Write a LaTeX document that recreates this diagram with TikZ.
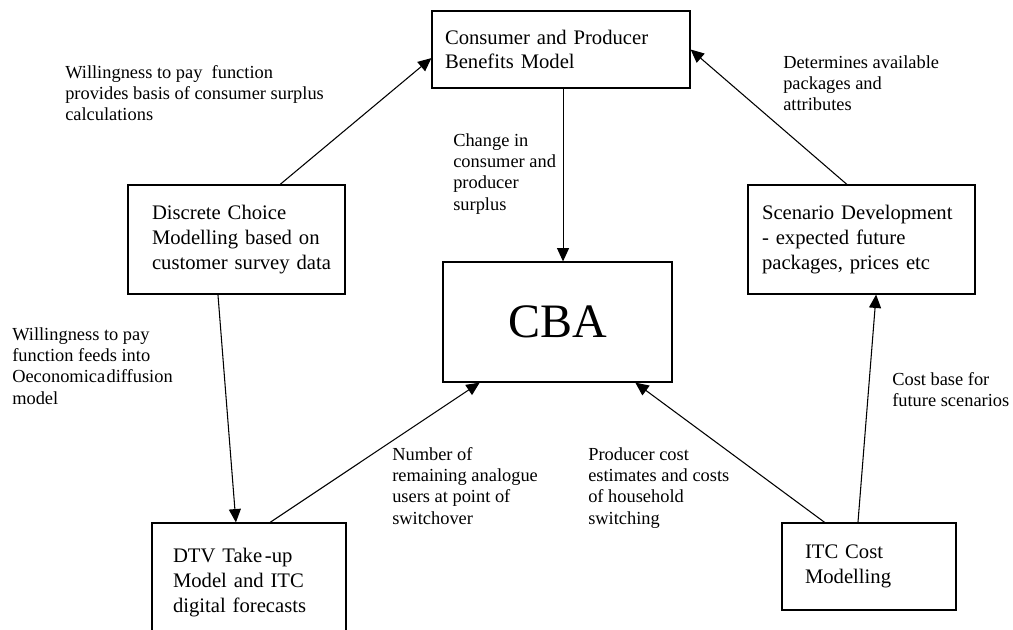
\documentclass[tikz,border=0pt]{standalone}
\usepackage{fontspec}
\setmainfont{Liberation Serif}
\usetikzlibrary{arrows.meta,calc}
\begin{document}
\begin{tikzpicture}[x=0.75pt,y=-0.75pt,
  box/.style={draw,line width=0.9pt,align=left,inner ysep=0pt,font=\fontsize{15.5}{18.5}\selectfont},
  lbl/.style={anchor=north west,align=left,inner sep=0pt,font=\fontsize{13.8}{16}\selectfont},
  conn/.style={line width=0.8pt,-{Triangle[length=10pt,width=9pt]}}]
\useasboundingbox (0,0) rectangle (1013,629);
\clip (0,0) rectangle (1013,629);

\node[box,minimum width=193.5pt,minimum height=57.75pt,inner xsep=9.75pt,text width=174pt] (top) at (561,49.5)
  {Consumer and Producer\\Benefits Model};
\node[box,minimum width=162.75pt,minimum height=81.75pt,inner xsep=18pt,text width=126.75pt] (disc) at (236.5,239.5)
  {Discrete Choice\\\mbox{Modelling based on}\\\mbox{customer survey data}};
\node[box,minimum width=171.75pt,minimum height=90pt,inner sep=0pt,font=\fontsize{36}{40}\selectfont] (cba) at (557.5,322) {CBA};
\node[box,minimum width=170.25pt,minimum height=81.75pt,inner xsep=10.5pt,text width=149.25pt] (scen) at (861.5,239.5)
  {\mbox{Scenario Development}\\- expected future\\packages, prices etc};
\node[box,minimum width=145.5pt,minimum height=89.25pt,inner xsep=15.75pt,text width=114pt] (dtv) at (249,582.5)
  {DTV Take\hspace{2pt}-up\\Model and ITC\\digital forecasts};
\node[box,minimum width=130.5pt,minimum height=65.25pt,inner xsep=17.25pt,text width=96pt] (itc) at (869,566.5)
  {ITC Cost\\Modelling};

\node[lbl] (l1) at (65,65) {Willingness to pay\ \ function\\provides basis of consumer surplus\\calculations};
\node[lbl] (l2) at (453,133) {Change in\\consumer and\\producer\\surplus};
\node[lbl] (l3) at (783,55) {Determines available\\packages and\\attributes};
\node[lbl] (l4) at (12,327) {Willingness to pay\\function feeds into\\Oeconomica\hspace{1pt}diffusion\\model};
\node[lbl] (l5) at (392,447) {Number of\\remaining analogue\\users at point of\\switchover};
\node[lbl] (l6) at (588,447) {Producer cost\\estimates and costs\\of household\\switching};
\node[lbl] (l7) at (892,372) {Cost base for\\future scenarios};

\coordinate (cbaN) at ($(cba.north west)!0.524!(cba.north east)$);
\draw[conn] ($(disc.north west)!0.70!(disc.north east)$) -- ($(top.north west)!0.61!(top.south west)$);
\draw[conn] ($(scen.north west)!0.436!(scen.north east)$) -- (top.east);
\draw[conn] (top.south -| cbaN) -- (cbaN);
\draw[conn] ($(disc.south west)!0.415!(disc.south east)$) -- ($(dtv.north west)!0.433!(dtv.north east)$);
\draw[conn] ($(dtv.north west)!0.608!(dtv.north east)$) -- ($(cba.south west)!0.162!(cba.south east)$);
\draw[conn] ($(itc.north west)!0.247!(itc.north east)$) -- ($(cba.south west)!0.838!(cba.south east)$);
\draw[conn] ($(itc.north west)!0.437!(itc.north east)$) -- ($(scen.south west)!0.564!(scen.south east)$);
\end{tikzpicture}
\end{document}
